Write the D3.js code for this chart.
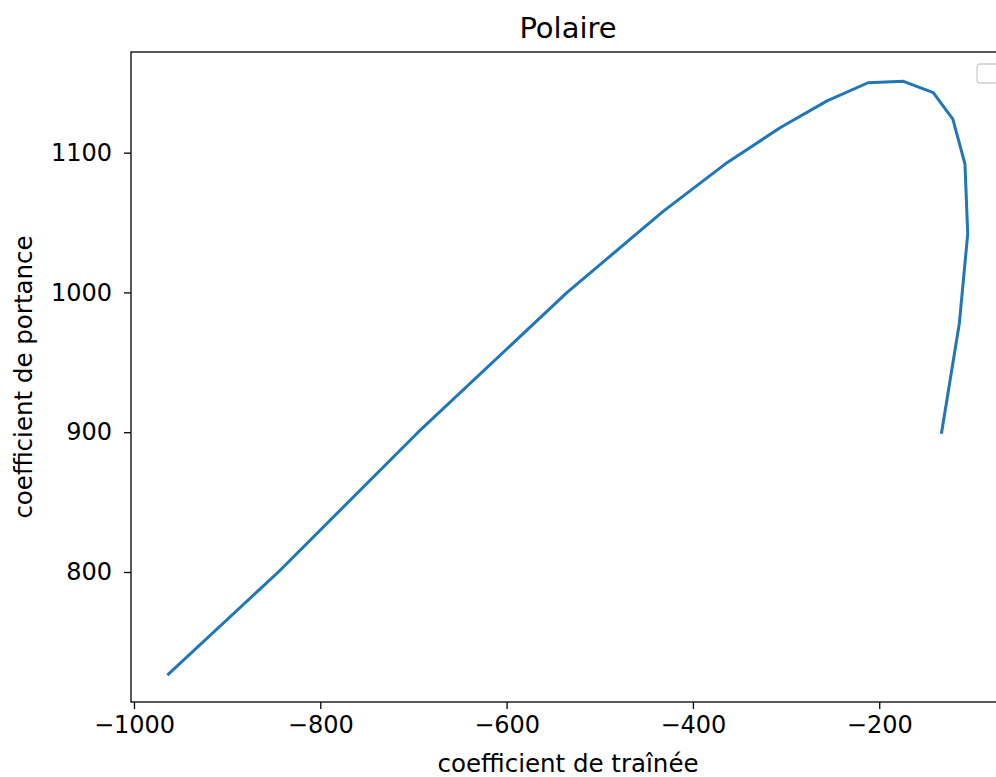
<!DOCTYPE html>
<html>
<head>
<meta charset="utf-8">
<script src="https://cdn.jsdelivr.net/npm/d3@7"></script>
<style>
  html, body { margin: 0; padding: 0; background: #fff; overflow: hidden; }
  svg { display: block; font-family: "DejaVu Sans", sans-serif; }
</style>
</head>
<body>
<svg id="chart" width="996" height="777"></svg>
<script>
// Polar curve: drag coefficient (x) vs lift coefficient (y)
const trainee = [-963, -845, -695, -535, -432, -363, -306, -256, -212, -174, -142, -121, -108, -105, -114, -133];
const portance = [727, 800, 900, 1000, 1058, 1093, 1118, 1137, 1150, 1151, 1143, 1124, 1092, 1042, 978, 900];
const xTicks = [-1000, -800, -600, -400, -200];
const yTicks = [800, 900, 1000, 1100];

const svg = d3.select("#chart");
const plotLeft = 131, plotTop = 52, plotBottom = 702, plotRight = 1005;

const x = d3.scaleLinear().domain([-1003.2, -65]).range([plotLeft, plotRight]);
const y = d3.scaleLinear().domain([707, 1172]).range([plotBottom, plotTop]);

const points = trainee.map((d, i) => [d, portance[i]]);

// data line
svg.append("path")
  .datum(points)
  .attr("fill", "none")
  .attr("stroke", "#1f77b4")
  .attr("stroke-width", 3)
  .attr("stroke-linejoin", "round")
  .attr("stroke-linecap", "square")
  .attr("d", d3.line().x(d => x(d[0])).y(d => y(d[1])));

// axes
const xAxis = svg.append("g")
  .attr("transform", `translate(0,${plotBottom})`)
  .call(d3.axisBottom(x).tickValues(xTicks).tickSize(7).tickPadding(7)
    .tickFormat(d => d3.format("d")(d).replace("-", "\u2212")));
const yAxis = svg.append("g")
  .attr("transform", `translate(${plotLeft},0)`)
  .call(d3.axisLeft(y).tickValues(yTicks).tickSize(7).tickPadding(12)
    .tickFormat(d3.format("d")));

[xAxis, yAxis].forEach(g => {
  g.select(".domain").remove();
  g.selectAll(".tick line").attr("stroke", "#000").attr("stroke-width", 1.3);
  g.selectAll(".tick text").attr("fill", "#000").style("font-size", "24px")
    .style("font-family", "'DejaVu Sans', sans-serif");
});

// spines
svg.append("rect")
  .attr("x", plotLeft).attr("y", plotTop)
  .attr("width", plotRight - plotLeft).attr("height", plotBottom - plotTop)
  .attr("fill", "none").attr("stroke", "#000").attr("stroke-width", 1.3);

// empty legend frame
svg.append("rect")
  .attr("x", 977).attr("y", 64).attr("width", 30).attr("height", 19).attr("rx", 3)
  .attr("fill", "#fff").attr("fill-opacity", 0.8)
  .attr("stroke", "#d0d0d0").attr("stroke-width", 1.3);

// title and axis labels
svg.append("text")
  .attr("x", (plotLeft + plotRight) / 2).attr("y", 38)
  .attr("text-anchor", "middle").style("font-size", "29px").attr("fill", "#000")
  .text("Polaire");
svg.append("text")
  .attr("x", (plotLeft + plotRight) / 2).attr("y", 772)
  .attr("text-anchor", "middle").style("font-size", "24.5px").attr("fill", "#000")
  .text("coefficient de traînée");
svg.append("text")
  .attr("transform", `translate(32,${(plotTop + plotBottom) / 2}) rotate(-90)`)
  .attr("text-anchor", "middle").style("font-size", "24.5px").attr("fill", "#000")
  .text("coefficient de portance");
</script>
</body>
</html>
